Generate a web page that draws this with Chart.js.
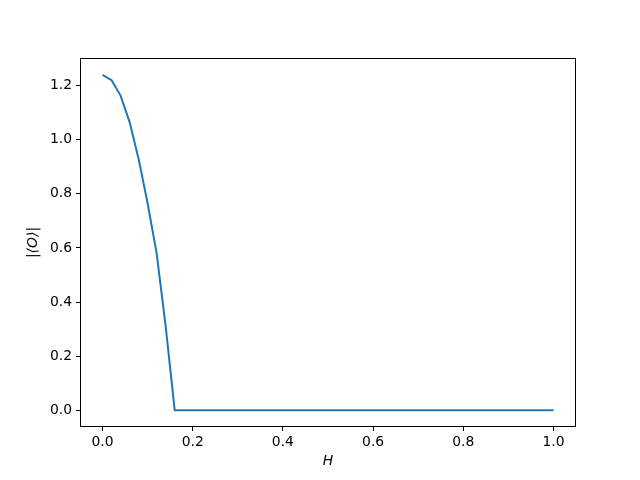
<!DOCTYPE html>
<html>
<head>
<meta charset="utf-8">
<script src="https://cdn.jsdelivr.net/npm/chart.js@4.4.1/dist/chart.umd.min.js"></script>
<style>
  html, body { margin: 0; padding: 0; background: #fff; }
</style>
</head>
<body>
<canvas id="orderChart" width="640" height="480"></canvas>
<script>
// field H and the order parameter |<O>|
const hValues = [
  0.00, 0.02, 0.04, 0.06, 0.08, 0.10, 0.12, 0.14, 0.16, 0.18,
  0.20, 0.22, 0.24, 0.26, 0.28, 0.30, 0.32, 0.34, 0.36, 0.38,
  0.40, 0.42, 0.44, 0.46, 0.48, 0.50, 0.52, 0.54, 0.56, 0.58,
  0.60, 0.62, 0.64, 0.66, 0.68, 0.70, 0.72, 0.74, 0.76, 0.78,
  0.80, 0.82, 0.84, 0.86, 0.88, 0.90, 0.92, 0.94, 0.96, 0.98,
  1.00
];
const orderValues = [
  1.24, 1.22, 1.163, 1.065, 0.929, 0.764, 0.58, 0.31, 0, 0,
  0, 0, 0, 0, 0, 0, 0, 0, 0, 0,
  0, 0, 0, 0, 0, 0, 0, 0, 0, 0,
  0, 0, 0, 0, 0, 0, 0, 0, 0, 0,
  0, 0, 0, 0, 0, 0, 0, 0, 0, 0,
  0
];
const xTicks = [0.0, 0.2, 0.4, 0.6, 0.8, 1.0];
const yTicks = [0.0, 0.2, 0.4, 0.6, 0.8, 1.0, 1.2];

const tickFont = { family: 'DejaVu Sans', size: 13.9 };

// black box round the plot area, like matplotlib spines
const frame = {
  id: 'frame',
  afterDraw(chart) {
    const a = chart.chartArea;
    const c = chart.ctx;
    c.save();
    c.strokeStyle = '#000';
    c.lineWidth = 1;
    c.strokeRect(a.left + 0.5, a.top + 0.5, a.right - a.left - 1, a.bottom - a.top - 1);
    c.restore();
  }
};

const ctx = document.getElementById('orderChart').getContext('2d');
new Chart(ctx, {
  type: 'line',
  data: {
    datasets: [{
      data: hValues.map((h, i) => ({ x: h, y: orderValues[i] })),
      borderColor: '#1f77b4',
      borderWidth: 2,
      pointRadius: 0,
      tension: 0,
      fill: false
    }]
  },
  options: {
    responsive: false,
    animation: false,
    layout: { padding: { top: 58, right: 64, left: 0, bottom: 0 } },
    plugins: { legend: { display: false }, tooltip: { enabled: false } },
    scales: {
      x: {
        type: 'linear',
        min: -0.05,
        max: 1.05,
        afterBuildTicks: s => { s.ticks = xTicks.map(v => ({ value: v })); },
        afterFit: s => { s.height = 53; },
        grid: { drawOnChartArea: false, drawTicks: true, tickLength: 4, tickColor: '#000' },
        border: { display: false },
        ticks: {
          font: tickFont, color: '#000', padding: 3, maxRotation: 0,
          callback: v => v.toFixed(1)
        },
        title: {
          display: true, text: 'H', color: '#000',
          font: { family: 'DejaVu Sans', size: 13.9, style: 'italic' },
          padding: { top: 0, bottom: 10 }
        }
      },
      y: {
        type: 'linear',
        min: -0.062,
        max: 1.302,
        afterBuildTicks: s => { s.ticks = yTicks.map(v => ({ value: v })); },
        afterFit: s => { s.width = 80; },
        grid: { drawOnChartArea: false, drawTicks: true, tickLength: 4, tickColor: '#000' },
        border: { display: false },
        ticks: {
          font: tickFont, color: '#000', padding: 4,
          callback: v => v.toFixed(1)
        },
        title: {
          display: true, text: '|⟨O⟩|', color: '#000',
          font: { family: 'DejaVu Sans', size: 13.9, style: 'italic' },
          padding: { top: 25, bottom: 0 }
        }
      }
    }
  },
  plugins: [frame]
});
</script>
</body>
</html>
